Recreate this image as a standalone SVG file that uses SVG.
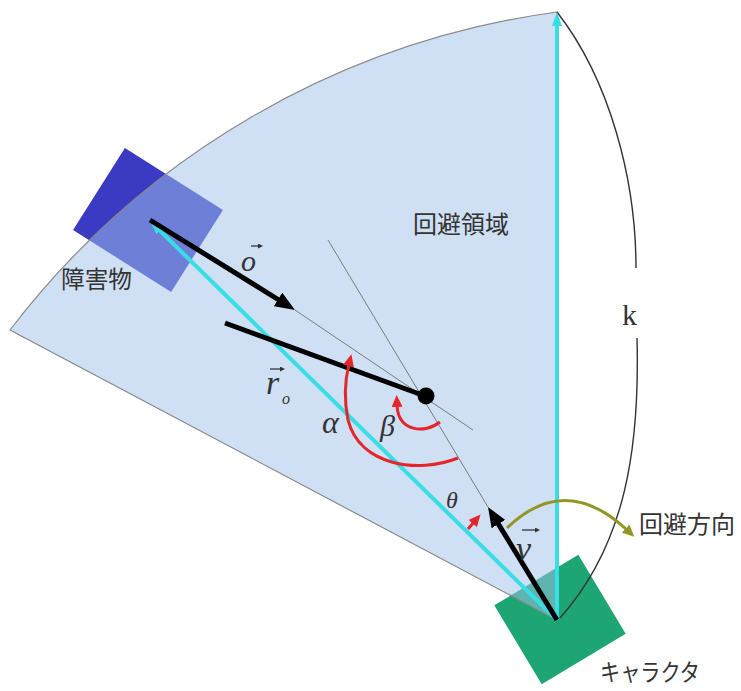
<svg xmlns="http://www.w3.org/2000/svg" width="741" height="691" viewBox="0 0 741 691">
<style>
.cjk { font-family: "Noto Sans CJK JP", "Noto Sans", sans-serif; font-size: 24px; fill: #333; }
.math { font-family: "Liberation Serif", "DejaVu Serif", serif; font-style: italic; fill: #333; }
.thin { stroke: #7a7a7a; stroke-width: 1; fill: none; }
.dim { stroke: #333; stroke-width: 1.4; fill: none; }
.cyan { stroke: #38dde6; stroke-width: 4; fill: none; }
.blk { stroke: #000; stroke-width: 5; fill: none; }
.red { stroke: #e4262a; stroke-width: 3; fill: none; }
.olive { stroke: #959526; stroke-width: 3; fill: none; }
.vec { stroke: #333; stroke-width: 1.3; fill: none; }
</style>
<defs>
<marker id="ah-blk" markerUnits="userSpaceOnUse" markerWidth="20" markerHeight="16" refX="2" refY="8" orient="auto"><path d="M0,0 L20,8 L0,16 Z" fill="#000"/></marker>
<marker id="ah-cyan" markerUnits="userSpaceOnUse" markerWidth="14" markerHeight="10" refX="2" refY="5" orient="auto"><path d="M0,0 L14,5 L0,10 Z" fill="#38dde6"/></marker>
<marker id="ah-red" markerUnits="userSpaceOnUse" markerWidth="12" markerHeight="11" refX="2" refY="5.5" orient="auto"><path d="M0,0 L12,5.5 L0,11 Z" fill="#e4262a"/></marker>
<marker id="ah-olive" markerUnits="userSpaceOnUse" markerWidth="12" markerHeight="11" refX="2" refY="5.5" orient="auto"><path d="M0,0 L12,5.5 L0,11 Z" fill="#959526"/></marker>
<marker id="ah-vec" markerUnits="userSpaceOnUse" markerWidth="5" markerHeight="5" refX="1" refY="2.5" orient="auto"><path d="M0,0 L5,2.5 L0,5 Z" fill="#333"/></marker>
</defs>

<g id="obstacle">
<rect x="-58" y="-48.5" width="116" height="97" fill="#3a3ac2" transform="translate(148,220) rotate(32.3)"/>
</g>
<g id="character">
<rect x="-49" y="-46" width="98" height="92" fill="#1da673" transform="translate(560,619.5) rotate(-31)"/>
</g>
<g id="region">
<path d="M557,620 L557,12 A829,829 0 0 0 10,330 Z" fill="rgb(161,194,235)" fill-opacity="0.51" stroke="#8a8a8a" stroke-width="1.2"/>
</g>

<g id="connectors">
<path class="thin" d="M295,310 L473,430"/>
<path class="thin" d="M328,240 L488,507"/>
<path class="dim" d="M557,12 C610,80 636,180 636,268"/>
<path class="dim" d="M637,338 C640,450 625,545 560,618"/>
<path class="cyan" d="M557,620 L557,24" marker-end="url(#ah-cyan)"/>
<path class="cyan" d="M557,620 L158.6,229.4" marker-end="url(#ah-cyan)"/>
<path class="blk" d="M150,220 L279.7,300.5" marker-end="url(#ah-blk)"/>
<path class="blk" d="M557,620 L497.4,522.4" marker-end="url(#ah-blk)"/>
<path class="blk" d="M225,323 L425,396"/>
<circle cx="426" cy="396" r="8.5" fill="#000"/>
<path class="red" d="M458,458 C418,474 360,466 348,420 C344,400 345,380 349,364" marker-end="url(#ah-red)"/>
<path class="red" d="M440,422 C425,434 398,432 397,405" marker-end="url(#ah-red)"/>
<path class="red" d="M468,529 L474,522" marker-end="url(#ah-red)"/>
<path class="olive" d="M507,528 Q565,472 627,530" marker-end="url(#ah-olive)"/>
</g>

<g id="labels">
<text class="cjk" x="413" y="233" textLength="96" lengthAdjust="spacingAndGlyphs">回避領域</text>
<text class="cjk" x="61" y="288" textLength="71" lengthAdjust="spacingAndGlyphs">障害物</text>
<text class="cjk" x="639" y="533" textLength="96" lengthAdjust="spacingAndGlyphs">回避方向</text>
<text class="cjk" x="600" y="681" textLength="100" lengthAdjust="spacingAndGlyphs">キャラクタ</text>
<text x="622" y="325" style="font-family:'Liberation Serif','DejaVu Serif',serif;font-size:30px;fill:#333">k</text>
<text class="math" x="241" y="271" font-size="30">o</text>
<path class="vec" d="M251,246 L259,246" marker-end="url(#ah-vec)"/>
<text class="math" x="266" y="394" font-size="34">r</text>
<path class="vec" d="M270,369 L281,369" marker-end="url(#ah-vec)"/>
<text class="math" x="282" y="404" font-size="16">o</text>
<text class="math" x="322" y="433" font-size="32">α</text>
<text class="math" x="380" y="436" font-size="30">β</text>
<text class="math" x="446" y="508" font-size="24">θ</text>
<text class="math" x="516" y="560" font-size="34">v</text>
<path class="vec" d="M522,530 L536,530" marker-end="url(#ah-vec)"/>
</g>
</svg>
